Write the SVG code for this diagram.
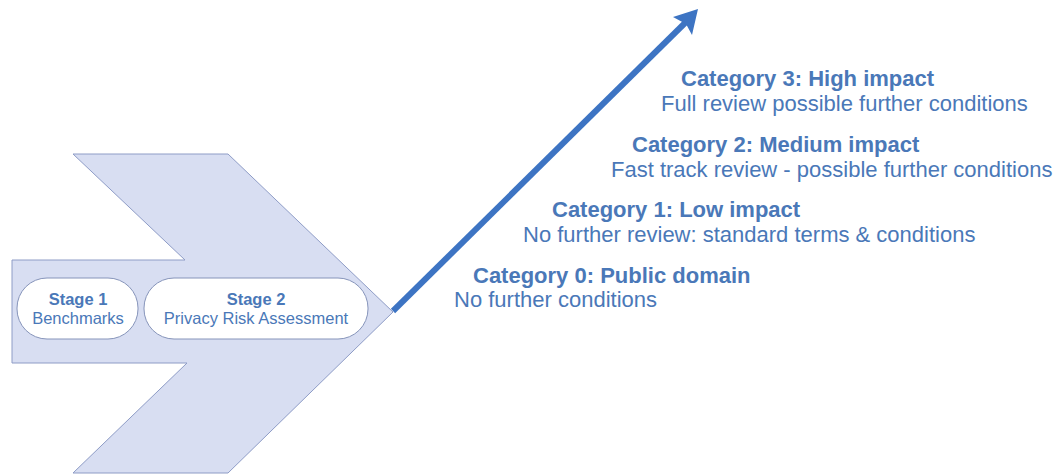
<svg xmlns="http://www.w3.org/2000/svg" width="1059" height="475" viewBox="0 0 1059 475">
<style>
.t{font-family:"Liberation Sans",Arial,sans-serif;fill:#4a78b8}
.b{font-weight:bold}
.cat{font-size:22px}
.stg{font-size:16.5px;text-anchor:middle}
.pill{fill:#ffffff;stroke:#8694ba;stroke-width:1}
</style>
<rect width="1059" height="475" fill="#ffffff"/>
<g id="chevron">
<polygon points="73,154 228,154 393,312 228,473 73,473 187,363 12,363 12,260 185,260" fill="#d8def2" stroke="#8e9cc6" stroke-width="1"/>
</g>
<g id="stage1">
<rect class="pill" x="17" y="278" width="121" height="61" rx="30" ry="30"/>
<text class="t b stg" x="78" y="305">Stage 1</text>
<text class="t stg" x="78" y="324">Benchmarks</text>
</g>
<g id="stage2">
<rect class="pill" x="144" y="278" width="224" height="61" rx="30" ry="30"/>
<text class="t b stg" x="256" y="305">Stage 2</text>
<text class="t stg" x="256" y="324">Privacy Risk Assessment</text>
</g>
<g id="connectors">
<line x1="393" y1="311" x2="686" y2="22" stroke="#3d74c3" stroke-width="6"/>
<polygon points="698,9 692,35 686,24 673,17" fill="#3d74c3"/>
</g>
<g id="cat3">
<text class="t b cat" x="681" y="86">Category 3: High impact</text>
<text class="t cat" x="661" y="111">Full review possible further conditions</text>
</g>
<g id="cat2">
<text class="t b cat" x="632" y="152">Category 2: Medium impact</text>
<text class="t cat" x="611" y="177">Fast track review - possible further conditions</text>
</g>
<g id="cat1">
<text class="t b cat" x="552" y="217">Category 1: Low impact</text>
<text class="t cat" x="523" y="242">No further review: standard terms &amp; conditions</text>
</g>
<g id="cat0">
<text class="t b cat" x="473" y="283">Category 0: Public domain</text>
<text class="t cat" x="454" y="307">No further conditions</text>
</g>
</svg>
